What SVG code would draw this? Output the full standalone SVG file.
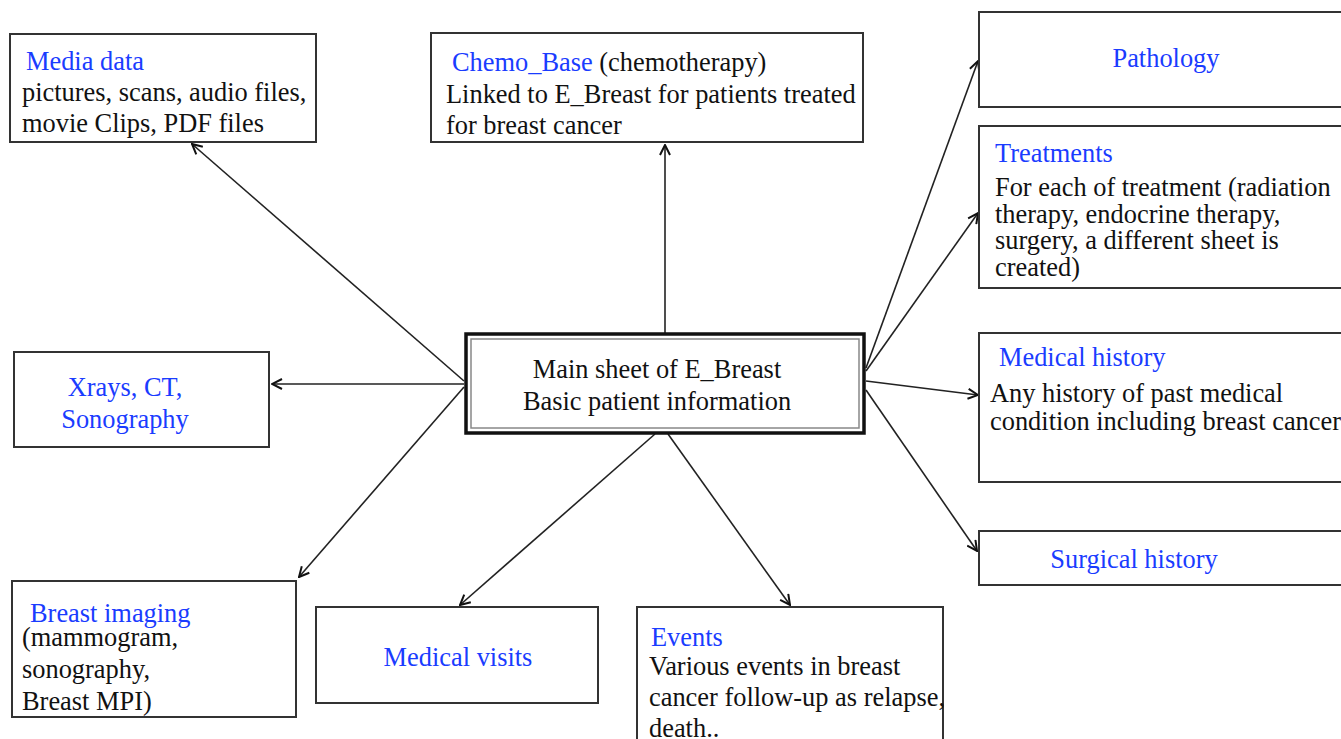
<svg xmlns="http://www.w3.org/2000/svg" width="1341" height="739" viewBox="0 0 1341 739">
<defs>
<marker id="arr" viewBox="0 0 12 12" refX="11" refY="6" markerWidth="12" markerHeight="12" markerUnits="userSpaceOnUse" orient="auto">
<path d="M1,1 L11,6 L1,11" fill="none" stroke="#111" stroke-width="2"/>
</marker>
<style>
.box{fill:#fff;stroke:#333;stroke-width:2}
text{font-family:"Liberation Serif","Times New Roman",serif;font-size:26.4px;fill:#111}
.t{fill:#1a3cff}
.c{text-anchor:middle}
.ln{stroke:#222;stroke-width:1.6;fill:none;marker-end:url(#arr)}
</style>
</defs>
<rect width="1341" height="739" fill="#fff"/>
<g id="connectors">
<line class="ln" x1="464" y1="381" x2="192" y2="144"/>
<line class="ln" x1="665" y1="333" x2="665" y2="145"/>
<line class="ln" x1="464" y1="384" x2="272" y2="384"/>
<line class="ln" x1="464" y1="387" x2="299" y2="577"/>
<line class="ln" x1="655" y1="434" x2="460" y2="605"/>
<line class="ln" x1="668" y1="434" x2="790" y2="605"/>
<line class="ln" x1="866" y1="368" x2="978" y2="61"/>
<line class="ln" x1="866" y1="371" x2="978" y2="213"/>
<line class="ln" x1="866" y1="381" x2="978" y2="395"/>
<line class="ln" x1="866" y1="390" x2="977" y2="551"/>
</g>
<g id="media">
<rect class="box" x="10" y="34" width="306" height="108"/>
<text class="t" x="26" y="70">Media data</text>
<text x="22" y="101">pictures, scans, audio files,</text>
<text x="22" y="132">movie Clips, PDF files</text>
</g>
<g id="chemo">
<rect class="box" x="431" y="33" width="432" height="109"/>
<text x="452" y="71"><tspan class="t">Chemo_Base</tspan> (chemotherapy)</text>
<text x="446" y="103">Linked to E_Breast for patients treated</text>
<text x="446" y="134">for breast cancer</text>
</g>
<g id="pathology">
<rect class="box" x="979" y="12" width="366" height="95"/>
<text class="t c" x="1166" y="67">Pathology</text>
</g>
<g id="treatments">
<rect class="box" x="979" y="126" width="366" height="162"/>
<text class="t" x="995" y="162">Treatments</text>
<text x="995" y="196">For each of treatment (radiation</text>
<text x="995" y="223">therapy, endocrine therapy,</text>
<text x="995" y="249">surgery, a different sheet is</text>
<text x="995" y="276">created)</text>
</g>
<g id="main">
<rect x="466" y="334" width="398" height="99" fill="#fff" stroke="#111" stroke-width="3.5"/>
<rect x="471" y="339" width="388" height="89" fill="none" stroke="#888" stroke-width="1.5"/>
<text class="c" x="657" y="378">Main sheet of E_Breast</text>
<text class="c" x="657" y="410">Basic patient information</text>
</g>
<g id="medhistory">
<rect class="box" x="979" y="333" width="366" height="149"/>
<text class="t" x="999" y="366">Medical history</text>
<text x="990" y="402">Any history of past medical</text>
<text x="990" y="430">condition including breast cancer</text>
</g>
<g id="surgical">
<rect class="box" x="979" y="531" width="366" height="54"/>
<text class="t c" x="1134" y="568">Surgical history</text>
</g>
<g id="xrays">
<rect class="box" x="14" y="352" width="255" height="95"/>
<text class="t c" x="125" y="396">Xrays, CT,</text>
<text class="t c" x="125" y="428">Sonography</text>
</g>
<g id="breastimaging">
<rect class="box" x="12" y="581" width="284" height="136"/>
<text class="t" x="30" y="622">Breast imaging</text>
<text x="22" y="646">(mammogram,</text>
<text x="22" y="678">sonography,</text>
<text x="22" y="710">Breast MPI)</text>
</g>
<g id="visits">
<rect class="box" x="316" y="607" width="282" height="96"/>
<text class="t c" x="458" y="666">Medical visits</text>
</g>
<g id="events">
<rect class="box" x="637" y="607" width="306" height="140"/>
<text class="t" x="651" y="646">Events</text>
<text x="649" y="675">Various events in breast</text>
<text x="649" y="706">cancer follow-up as relapse,</text>
<text x="649" y="737">death..</text>
</g>
</svg>
